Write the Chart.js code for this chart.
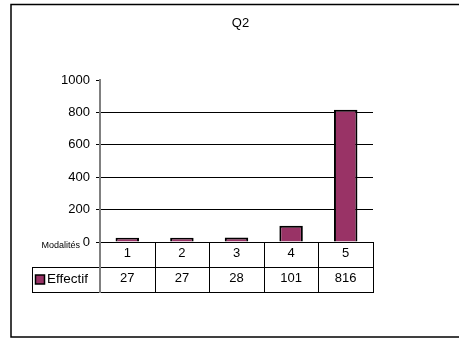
<!DOCTYPE html>
<html lang="fr">
<head>
    <meta charset="UTF-8">
    <title>Q2</title>
    <script src="https://cdn.jsdelivr.net/npm/chart.js"></script>
    <style>
        body { margin: 0; background: #ffffff; }
        #chart { display: block; }
    </style>
</head>
<body>
    <canvas id="chart" width="459" height="338"></canvas>
    <script>
        const categories = ["1", "2", "3", "4", "5"];
        const effectif = [27, 27, 28, 101, 816];
        const yTicks = [0, 200, 400, 600, 800, 1000];
        const seriesLabel = "Effectif";
        const chartTitle = "Q2";
        const axisLabel = "Modalités";

        const FONT = "'Liberation Sans', Arial, sans-serif";
        const BAR = "#993366";

        // outer frame, title, data table under the axis
        const tablePlugin = {
            id: "tablePlugin",
            afterDraw(chart) {
                const ctx = chart.ctx;
                const area = chart.chartArea;
                const x = chart.scales.x;
                const n = categories.length;
                const colW = (area.right - area.left) / n;
                const row1 = area.bottom + 25;
                const row2 = row1 + 25;
                const legLeft = 32;

                ctx.save();
                // frame (right side runs off the picture)
                ctx.strokeStyle = "#000";
                ctx.lineWidth = 1.5;
                ctx.strokeRect(11, 4.5, 470, 332.5);

                // title
                ctx.fillStyle = "#000";
                ctx.font = "13px " + FONT;
                ctx.textAlign = "center";
                ctx.textBaseline = "middle";
                ctx.fillText(chartTitle, 240.5, 23.5);

                // axis caption
                ctx.font = "9px " + FONT;
                ctx.textAlign = "right";
                ctx.fillText(axisLabel, 80, 246);

                // table lines
                ctx.lineWidth = 1;
                ctx.strokeStyle = "#000";
                ctx.beginPath();
                ctx.moveTo(legLeft, Math.round(row1) + 0.5);
                ctx.lineTo(area.right, Math.round(row1) + 0.5);
                ctx.moveTo(legLeft, Math.round(row2) + 0.5);
                ctx.lineTo(area.right, Math.round(row2) + 0.5);
                ctx.moveTo(legLeft + 0.5, Math.round(row1));
                ctx.lineTo(legLeft + 0.5, Math.round(row2) + 1);
                for (let i = 1; i <= n; i++) {
                    const cx = Math.round(area.left + colW * i) + 0.5;
                    ctx.moveTo(cx, area.bottom);
                    ctx.lineTo(cx, Math.round(row2) + 1);
                }
                ctx.stroke();

                // y axis continues through the table in grey
                ctx.strokeStyle = "#808080";
                ctx.lineWidth = 2;
                ctx.beginPath();
                ctx.moveTo(area.left, area.bottom);
                ctx.lineTo(area.left, Math.round(row2) + 1);
                ctx.stroke();

                // legend key
                ctx.fillStyle = BAR;
                ctx.fillRect(35.5, 275, 9, 9);
                ctx.strokeStyle = "#000";
                ctx.lineWidth = 1.5;
                ctx.strokeRect(35.5, 275, 9, 9);
                ctx.fillStyle = "#000";
                ctx.font = "13.5px " + FONT;
                ctx.textAlign = "left";
                ctx.fillText(seriesLabel, 47, 279.5);

                // values row
                ctx.font = "13px " + FONT;
                ctx.textAlign = "center";
                effectif.forEach((v, i) => {
                    ctx.fillText(String(v), x.getPixelForValue(i), 278.5);
                });
                ctx.restore();
            }
        };

        new Chart(document.getElementById("chart"), {
            type: "bar",
            data: {
                labels: categories,
                datasets: [{
                    label: seriesLabel,
                    data: effectif,
                    backgroundColor: BAR,
                    borderColor: "#000",
                    borderWidth: { top: 2, left: 2, right: 2, bottom: 0 },
                    borderSkipped: false,
                    categoryPercentage: 1,
                    barPercentage: 0.43
                }]
            },
            options: {
                responsive: false,
                animation: false,
                layout: { padding: { left: 60, right: 86, top: 80, bottom: 46 } },
                plugins: {
                    legend: { display: false },
                    title: { display: false },
                    tooltip: { enabled: false }
                },
                scales: {
                    x: {
                        grid: { display: false, drawTicks: false },
                        border: { color: "#000", width: 1 },
                        ticks: { color: "#000", font: { family: FONT, size: 13 }, padding: 4 },
                        afterFit(scale) { scale.height = 50; }
                    },
                    y: {
                        min: 0,
                        max: 1000,
                        afterBuildTicks(scale) { scale.ticks = yTicks.map(v => ({ value: v })); },
                        grid: {
                            color: ctx => (ctx.tick && (ctx.tick.value === 1000 || ctx.tick.value === 0)) ? "rgba(0,0,0,0)" : "#000",
                            tickColor: "#000",
                            tickLength: 4,
                            lineWidth: 1
                        },
                        border: { color: "#808080", width: 2 },
                        ticks: {
                            color: "#000",
                            font: { family: FONT, size: 13 },
                            padding: 6,
                            callback: v => String(v)
                        },
                        afterFit(scale) { scale.width = 40; }
                    }
                }
            },
            plugins: [tablePlugin]
        });
    </script>
</body>
</html>
